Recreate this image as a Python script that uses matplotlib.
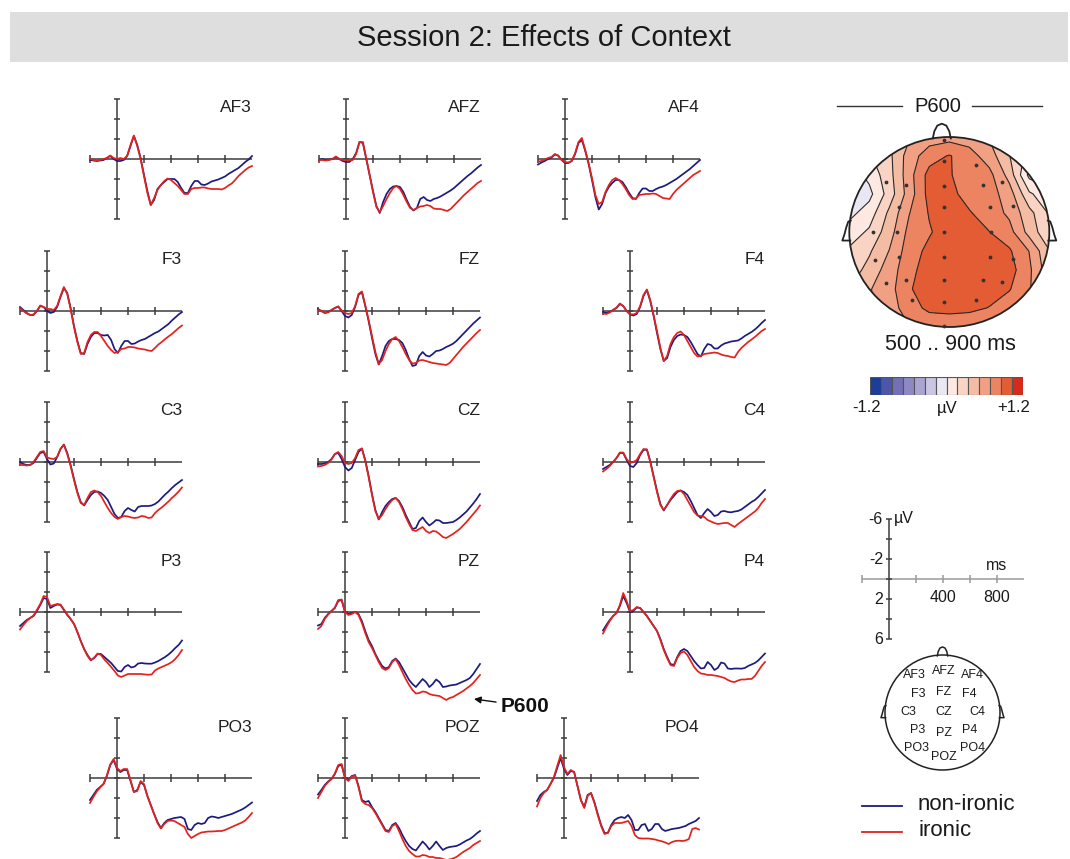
import numpy as np
import matplotlib.pyplot as plt
from matplotlib.patches import Ellipse, Rectangle
from matplotlib.colors import ListedColormap, BoundaryNorm

plt.rcParams['font.family'] = ['Liberation Sans', 'DejaVu Sans']

# time axis (ms), one sample every 25 ms
T = list(range(-200, 1001, 25))

# grand averages in microvolts (positive plotted downwards)
AF3_non = [0.1, 0.15, 0.2, 0.15, 0.1, -0.1, -0.3, 0.0, 0.2, 0.2, 0.1, -0.3, -1.3, -2.3, -1.4, -0.1, 1.6, 3.2, 4.6, 4.1, 3.0, 2.6, 2.3, 2.0, 2.0, 2.0, 2.3, 2.9, 3.4, 3.4, 2.7, 2.2, 2.2, 2.55, 2.6, 2.45, 2.25, 2.15, 2.05, 1.9, 1.75, 1.5, 1.3, 1.1, 0.9, 0.6, 0.3, 0.05, -0.3]
AF3_iro = [0.0, 0.1, 0.15, 0.1, 0.0, -0.1, -0.35, -0.1, 0.0, -0.1, 0.0, -0.3, -1.4, -2.35, -1.3, 0.0, 1.7, 3.4, 4.6, 3.9, 3.1, 2.6, 2.2, 1.95, 2.1, 2.4, 2.7, 3.1, 3.5, 3.5, 3.0, 2.9, 2.9, 2.85, 2.85, 2.95, 3.0, 3.0, 3.0, 3.05, 2.9, 2.65, 2.45, 2.1, 1.7, 1.4, 1.1, 0.85, 0.7]
AFZ_non = [0.1, 0.0, 0.1, 0.05, 0.0, -0.2, 0.0, 0.2, 0.3, 0.3, 0.0, -0.6, -1.7, -1.6, 0.0, 1.6, 3.2, 4.7, 5.4, 4.3, 3.5, 3.0, 2.75, 2.7, 2.8, 3.3, 4.1, 4.8, 5.15, 4.9, 4.0, 3.8, 4.1, 4.2, 4.0, 3.9, 3.75, 3.55, 3.35, 3.15, 2.9, 2.6, 2.3, 2.0, 1.7, 1.45, 1.15, 0.85, 0.6]
AFZ_iro = [0.1, 0.1, 0.15, 0.1, 0.0, -0.25, 0.0, 0.1, 0.1, 0.15, 0.1, -0.5, -1.7, -1.7, -0.1, 1.6, 3.3, 4.8, 5.3, 4.7, 4.0, 3.4, 2.9, 2.7, 3.0, 3.6, 4.3, 4.9, 5.1, 4.9, 4.75, 4.7, 4.6, 4.7, 4.95, 5.0, 5.0, 5.1, 5.2, 5.0, 4.65, 4.3, 3.95, 3.6, 3.3, 3.0, 2.7, 2.4, 2.2]
AF4_non = [0.55, 0.35, 0.2, 0.0, -0.15, -0.45, -0.35, 0.1, 0.4, 0.4, 0.2, -0.5, -1.6, -1.9, -0.8, 0.5, 2.1, 3.8, 5.05, 4.5, 3.4, 2.8, 2.4, 2.1, 2.1, 2.3, 2.8, 3.4, 3.9, 4.0, 3.4, 2.95, 2.95, 3.2, 3.2, 3.0, 2.85, 2.75, 2.6, 2.4, 2.2, 2.0, 1.75, 1.5, 1.25, 1.0, 0.7, 0.4, 0.1]
AF4_iro = [0.25, 0.2, 0.05, -0.1, -0.2, -0.5, -0.3, 0.1, 0.3, 0.35, 0.2, -0.6, -1.7, -2.1, -0.9, 0.4, 1.9, 3.6, 4.5, 4.3, 3.3, 2.6, 2.1, 1.9, 2.1, 2.5, 3.0, 3.6, 4.0, 3.95, 3.6, 3.55, 3.5, 3.5, 3.45, 3.5, 3.7, 3.9, 3.95, 4.0, 3.5, 3.1, 2.8, 2.5, 2.2, 1.9, 1.6, 1.4, 1.2]
F3_non = [-0.4, -0.1, 0.2, 0.4, 0.4, 0.0, -0.5, -0.4, 0.0, 0.2, 0.1, -0.4, -1.4, -2.3, -1.8, -0.3, 1.5, 3.0, 4.2, 4.3, 3.3, 2.6, 2.2, 2.2, 2.4, 2.45, 2.4, 2.9, 3.8, 4.2, 3.5, 3.0, 3.0, 3.3, 3.25, 3.05, 2.9, 2.8, 2.6, 2.4, 2.2, 2.05, 1.8, 1.55, 1.3, 0.95, 0.65, 0.35, 0.1]
F3_iro = [-0.3, 0.0, 0.25, 0.4, 0.35, 0.0, -0.55, -0.4, -0.2, -0.2, -0.1, -0.5, -1.5, -2.4, -1.7, -0.2, 1.6, 3.1, 4.3, 4.2, 3.1, 2.4, 2.1, 2.1, 2.5, 3.0, 3.5, 3.9, 4.2, 4.1, 3.8, 3.75, 3.6, 3.6, 3.65, 3.75, 3.8, 3.85, 3.95, 4.0, 3.7, 3.35, 3.1, 2.8, 2.55, 2.3, 2.0, 1.7, 1.45]
FZ_non = [-0.2, 0.0, 0.2, 0.1, -0.1, -0.3, -0.45, 0.0, 0.5, 0.65, 0.4, -0.4, -1.6, -1.9, -0.5, 1.0, 2.7, 4.3, 5.35, 4.5, 3.5, 3.0, 2.8, 2.8, 2.9, 3.2, 3.9, 4.8, 5.5, 5.4, 4.5, 4.1, 4.45, 4.55, 4.3, 4.0, 3.95, 3.8, 3.6, 3.45, 3.27, 3.0, 2.65, 2.3, 1.95, 1.6, 1.25, 0.95, 0.65]
FZ_iro = [-0.1, 0.0, 0.15, 0.15, -0.1, -0.3, -0.45, -0.05, 0.2, 0.3, 0.2, -0.5, -1.7, -1.95, -0.6, 0.9, 2.5, 4.1, 5.3, 4.9, 4.0, 3.3, 2.8, 2.6, 3.0, 3.6, 4.3, 4.9, 5.25, 5.2, 4.95, 4.9, 5.0, 5.1, 5.2, 5.25, 5.3, 5.35, 5.4, 5.2, 4.8, 4.4, 4.0, 3.6, 3.25, 2.9, 2.55, 2.2, 1.9]
F4_non = [0.1, 0.2, 0.1, -0.1, -0.3, -0.7, -0.5, 0.0, 0.35, 0.45, 0.3, -0.4, -1.5, -2.1, -1.0, 0.5, 2.2, 3.8, 5.0, 4.7, 3.6, 2.9, 2.5, 2.35, 2.4, 2.6, 3.1, 3.7, 4.3, 4.55, 3.8, 3.3, 3.4, 3.75, 3.75, 3.45, 3.25, 3.15, 3.05, 3.0, 2.95, 2.75, 2.5, 2.3, 2.1, 1.85, 1.55, 1.2, 0.9]
F4_iro = [0.25, 0.3, 0.15, -0.1, -0.35, -0.75, -0.5, 0.0, 0.3, 0.35, 0.2, -0.5, -1.6, -2.15, -1.1, 0.4, 2.0, 3.7, 5.0, 4.5, 3.3, 2.6, 2.2, 2.05, 2.4, 3.0, 3.6, 4.2, 4.55, 4.5, 4.3, 4.25, 4.2, 4.15, 4.2, 4.35, 4.45, 4.5, 4.6, 4.65, 4.1, 3.7, 3.4, 3.1, 2.85, 2.6, 2.3, 2.0, 1.8]
C3_non = [0.0, 0.2, 0.3, 0.3, 0.1, -0.4, -0.9, -1.0, -0.3, 0.25, 0.15, -0.5, -1.3, -1.75, -0.9, 0.3, 1.7, 3.0, 4.0, 4.35, 3.8, 3.3, 3.0, 2.95, 3.1, 3.4, 3.8, 4.5, 5.2, 5.6, 5.5, 4.9, 4.6, 4.8, 4.95, 4.5, 4.4, 4.4, 4.4, 4.35, 4.2, 3.95, 3.6, 3.25, 2.95, 2.6, 2.3, 2.05, 1.8]
C3_iro = [0.3, 0.3, 0.35, 0.3, 0.0, -0.5, -1.0, -1.1, -0.45, -0.35, -0.3, -0.5, -1.3, -1.7, -0.8, 0.4, 1.8, 3.1, 4.1, 4.3, 3.6, 3.0, 2.85, 3.0, 3.4, 4.0, 4.6, 5.1, 5.5, 5.7, 5.5, 5.4, 5.45, 5.55, 5.6, 5.55, 5.4, 5.45, 5.6, 5.55, 5.1, 4.8, 4.55, 4.25, 3.95, 3.6, 3.3, 2.95, 2.55]
CZ_non = [0.2, 0.2, 0.15, 0.0, -0.3, -0.8, -0.9, -0.3, 0.5, 0.85, 0.6, -0.2, -1.0, -1.35, -0.2, 1.4, 3.2, 4.8, 5.75, 5.0, 4.4, 4.0, 3.7, 3.6, 3.9, 4.5, 5.3, 6.0, 6.7, 6.6, 5.9, 5.55, 6.0, 6.35, 6.1, 5.8, 5.85, 6.1, 6.1, 6.05, 6.0, 5.8, 5.55, 5.25, 4.95, 4.55, 4.15, 3.7, 3.2]
CZ_iro = [0.45, 0.4, 0.3, 0.1, -0.25, -0.8, -1.0, -0.6, 0.1, 0.2, 0.1, -0.4, -1.2, -1.35, -0.1, 1.5, 3.3, 4.9, 5.7, 5.3, 4.7, 4.2, 3.8, 3.6, 4.0, 4.7, 5.5, 6.2, 6.8, 6.9, 6.7, 6.5, 6.9, 7.1, 6.9, 6.95, 7.2, 7.5, 7.6, 7.4, 7.2, 6.95, 6.7, 6.35, 6.0, 5.6, 5.2, 4.8, 4.35]
C4_non = [0.7, 0.5, 0.3, 0.0, -0.4, -0.9, -0.9, -0.2, 0.4, 0.5, 0.1, -0.7, -1.2, -1.25, -0.1, 1.4, 2.9, 4.2, 4.85, 4.3, 3.8, 3.4, 3.0, 2.85, 3.0, 3.3, 3.9, 4.6, 5.3, 5.6, 5.1, 4.7, 5.0, 5.4, 5.3, 4.95, 4.9, 5.0, 5.03, 4.95, 4.9, 4.75, 4.5, 4.25, 4.0, 3.8, 3.5, 3.15, 2.8]
C4_iro = [0.95, 0.7, 0.4, 0.0, -0.4, -0.95, -0.95, -0.3, 0.1, 0.0, -0.2, -0.8, -1.3, -1.25, 0.0, 1.5, 3.0, 4.3, 4.8, 4.3, 3.7, 3.2, 2.9, 2.85, 3.2, 3.8, 4.4, 5.0, 5.35, 5.4, 5.5, 5.8, 5.95, 6.1, 6.2, 6.15, 6.1, 6.1, 6.3, 6.5, 6.2, 5.95, 5.7, 5.45, 5.2, 4.95, 4.6, 4.1, 3.7]
P3_non = [1.4, 1.1, 0.8, 0.6, 0.4, -0.1, -0.7, -1.4, -1.3, -0.4, -0.6, -0.75, -0.7, -0.2, 0.3, 0.7, 1.2, 2.0, 2.9, 3.7, 4.3, 4.8, 4.6, 4.2, 4.2, 4.5, 4.8, 5.1, 5.5, 5.9, 5.95, 5.5, 5.3, 5.55, 5.45, 5.15, 5.1, 5.15, 5.17, 5.17, 5.05, 4.9, 4.7, 4.5, 4.25, 3.95, 3.6, 3.3, 2.85]
P3_iro = [1.75, 1.3, 0.9, 0.6, 0.35, -0.2, -0.8, -1.6, -1.5, -0.6, -0.7, -0.8, -0.75, -0.25, 0.25, 0.7, 1.2, 2.0, 2.9, 3.7, 4.4, 4.85, 4.55, 4.15, 4.3, 4.75, 5.1, 5.5, 5.9, 6.35, 6.5, 6.35, 6.2, 6.2, 6.2, 6.2, 6.2, 6.25, 6.27, 6.25, 5.85, 5.65, 5.5, 5.35, 5.2, 5.0, 4.7, 4.3, 3.8]
PZ_non = [1.35, 1.2, 0.6, 0.2, -0.1, -0.4, -1.1, -1.2, 0.0, 0.2, 0.1, 0.0, 0.2, 0.9, 1.9, 2.8, 3.4, 4.2, 4.85, 5.4, 5.65, 5.5, 4.9, 4.65, 5.0, 5.6, 6.2, 6.8, 7.2, 7.5, 7.1, 6.7, 7.0, 7.5, 7.2, 6.75, 7.0, 7.5, 7.45, 7.35, 7.3, 7.25, 7.1, 6.95, 6.8, 6.6, 6.2, 5.7, 5.2]
PZ_iro = [1.7, 1.4, 0.7, 0.25, -0.1, -0.45, -1.2, -1.25, 0.0, 0.3, 0.2, 0.0, 0.3, 1.1, 2.1, 3.0, 3.6, 4.3, 5.0, 5.6, 5.8, 5.6, 5.0, 4.7, 5.3, 6.0, 6.7, 7.3, 7.8, 8.15, 8.1, 7.95, 8.0, 8.2, 8.3, 8.35, 8.4, 8.6, 8.8, 8.6, 8.5, 8.3, 8.1, 7.9, 7.65, 7.4, 7.1, 6.7, 6.3]
P4_non = [1.85, 1.3, 0.8, 0.4, 0.1, -0.6, -1.6, -0.9, 0.0, -0.1, -0.45, -0.4, 0.0, 0.4, 0.9, 1.4, 1.9, 2.7, 3.7, 4.5, 5.2, 5.3, 4.5, 3.9, 3.7, 3.9, 4.4, 4.9, 5.3, 5.65, 5.6, 5.0, 5.3, 5.8, 5.6, 5.05, 5.15, 5.65, 5.7, 5.65, 5.65, 5.67, 5.6, 5.4, 5.25, 5.1, 4.85, 4.5, 4.15]
P4_iro = [2.15, 1.5, 0.9, 0.4, 0.1, -0.7, -1.9, -1.1, -0.1, -0.2, -0.5, -0.4, 0.0, 0.4, 0.9, 1.4, 1.9, 2.8, 3.8, 4.6, 5.3, 5.4, 4.6, 4.1, 3.95, 4.3, 4.9, 5.5, 5.9, 6.15, 6.2, 6.3, 6.3, 6.35, 6.4, 6.5, 6.6, 6.8, 6.95, 7.0, 6.85, 6.75, 6.75, 6.7, 6.7, 6.4, 5.9, 5.4, 5.0]
PO3_non = [2.2, 1.7, 1.2, 0.9, 0.6, -0.2, -1.3, -1.8, -0.9, -0.6, -0.8, -0.8, 0.3, 1.4, 1.2, 0.4, 0.7, 1.8, 2.7, 3.6, 4.4, 5.0, 4.5, 4.2, 4.1, 4.0, 3.95, 3.9, 4.1, 5.1, 5.2, 4.7, 4.5, 4.6, 4.5, 4.0, 3.85, 3.9, 4.0, 3.9, 3.8, 3.7, 3.6, 3.45, 3.3, 3.15, 2.95, 2.7, 2.45]
PO3_iro = [2.5, 1.9, 1.35, 0.95, 0.6, -0.25, -1.35, -1.9, -1.0, -0.7, -0.9, -0.9, 0.2, 1.4, 1.3, 0.3, 0.6, 1.8, 2.7, 3.6, 4.5, 5.05, 4.6, 4.3, 4.25, 4.3, 4.5, 4.7, 4.9, 5.6, 6.0, 5.8, 5.6, 5.45, 5.4, 5.35, 5.35, 5.33, 5.3, 5.3, 5.2, 5.05, 4.9, 4.75, 4.6, 4.45, 4.25, 3.9, 3.5]
POZ_non = [1.65, 1.2, 0.7, 0.35, 0.1, -0.4, -1.2, -1.3, 0.0, 0.2, -0.2, -0.3, 0.8, 2.2, 2.4, 2.3, 2.9, 3.4, 4.0, 4.6, 5.2, 5.3, 4.7, 4.5, 5.0, 5.7, 6.3, 6.8, 7.1, 7.25, 6.8, 6.35, 6.7, 7.15, 6.8, 6.35, 6.8, 7.2, 7.0, 6.9, 6.85, 6.8, 6.65, 6.45, 6.25, 6.1, 5.85, 5.55, 5.3]
POZ_iro = [2.0, 1.4, 0.8, 0.4, 0.1, -0.45, -1.3, -1.4, 0.0, 0.3, -0.15, -0.25, 0.9, 2.3, 2.6, 2.7, 3.0, 3.5, 4.1, 4.7, 5.3, 5.4, 4.8, 4.6, 5.3, 6.1, 6.8, 7.3, 7.6, 7.85, 7.85, 7.7, 7.75, 7.9, 7.9, 8.0, 8.0, 8.1, 8.2, 8.15, 8.05, 7.9, 7.65, 7.4, 7.2, 7.0, 6.7, 6.5, 6.3]
PO4_non = [2.3, 1.7, 1.4, 1.2, 0.6, 0.0, -1.0, -2.0, -0.9, -0.3, -0.7, -0.6, 0.8, 2.2, 2.9, 1.7, 1.5, 2.4, 3.6, 4.7, 5.5, 5.5, 4.7, 4.2, 4.0, 3.9, 4.0, 3.7, 4.2, 5.2, 5.2, 4.7, 4.6, 5.3, 5.1, 4.6, 4.6, 5.1, 5.3, 5.2, 5.1, 5.05, 5.0, 4.9, 4.8, 4.6, 4.45, 4.3, 4.0]
PO4_iro = [2.85, 2.0, 1.5, 1.2, 0.6, -0.1, -1.2, -2.3, -1.1, -0.4, -0.8, -0.6, 0.8, 2.2, 3.0, 1.8, 1.5, 2.5, 3.7, 4.8, 5.6, 5.5, 4.8, 4.5, 4.5, 4.5, 4.4, 4.3, 4.8, 5.7, 6.0, 6.05, 6.05, 6.05, 6.1, 6.15, 6.25, 6.33, 6.45, 6.6, 6.4, 6.3, 6.27, 6.3, 6.25, 6.1, 5.1, 5.0, 5.15]

# P600 topography 500..900 ms, values on a regular grid over the head (uV)
grid_x = [-1.0, -0.8, -0.6, -0.4, -0.2, 0.0, 0.2, 0.4, 0.6, 0.8, 1.0]
grid_y = [1.0, 0.8, 0.6, 0.4, 0.2, 0.0, -0.2, -0.4, -0.6, -0.8, -1.0]
topo_vals = [
    [0.2, 0.25, 0.35, 0.5, 0.6, 0.62, 0.6, 0.5, 0.3, 0.1, 0.1],
    [0.1, 0.15, 0.3, 0.6, 0.78, 0.87, 0.76, 0.6, 0.35, 0.1, 0.05],
    [-0.1, 0.05, 0.28, 0.62, 0.92, 0.88, 0.72, 0.74, 0.45, -0.05, -0.1],
    [-0.15, -0.05, 0.25, 0.6, 0.92, 0.9, 0.8, 0.76, 0.6, 0.2, 0.05],
    [-0.05, 0.08, 0.38, 0.68, 0.87, 0.94, 0.87, 0.78, 0.65, 0.4, 0.15],
    [0.08, 0.2, 0.44, 0.74, 0.84, 0.95, 0.93, 0.86, 0.75, 0.45, 0.2],
    [0.2, 0.32, 0.52, 0.78, 0.9, 0.97, 0.96, 0.94, 0.88, 0.68, 0.35],
    [0.25, 0.4, 0.6, 0.8, 0.95, 0.98, 0.97, 0.96, 0.93, 0.72, 0.4],
    [0.35, 0.5, 0.62, 0.84, 0.95, 0.98, 0.96, 0.94, 0.87, 0.7, 0.5],
    [0.45, 0.5, 0.6, 0.78, 0.9, 0.92, 0.9, 0.85, 0.75, 0.65, 0.55],
    [0.5, 0.55, 0.6, 0.68, 0.72, 0.72, 0.72, 0.7, 0.68, 0.62, 0.55],
]
# electrode sites on the map
elec_x = [-0.05, -0.05, 0.27, -0.63, -0.43, -0.05, 0.34, 0.53, -0.5, -0.05, 0.41, 0.64, -0.76, -0.52,
          -0.05, 0.42, -0.74, -0.5, -0.05, 0.41, 0.64, -0.63, -0.43, -0.05, 0.34, 0.53, -0.37, -0.05,
          0.27, -0.05]
elec_y = [0.97, 0.745, 0.71, 0.53, 0.49, 0.48, 0.49, 0.53, 0.26, 0.26, 0.26, 0.27, 0.0, 0.0,
          0.0, 0.0, -0.29, -0.26, -0.26, -0.26, -0.28, -0.54, -0.51, -0.51, -0.51, -0.53, -0.72, -0.74,
          -0.72, -0.99]

cbar_colors = ['#1b3f98', '#4d56a9', '#7370b8', '#8e88c4', '#aaa4d3', '#c9c5e3', '#e9e7f3',
               '#fde9e1', '#f9d4c4', '#f5bca4', '#f1a084', '#ec8461', '#e45c33', '#d52b1d']
cbar_levels = np.linspace(-1.2, 1.2, 15)

# montage labels of the small head
montage = ['AF3', 'AFZ', 'AF4', 'F3', 'FZ', 'F4', 'C3', 'CZ', 'C4', 'P3', 'PZ', 'P4', 'PO3', 'POZ', 'PO4']
montage_x = [-0.48, 0.02, 0.52, -0.43, 0.02, 0.47, -0.59, 0.02, 0.6, -0.43, 0.02, 0.47, -0.45, 0.02, 0.52]
montage_y = [0.65, 0.72, 0.65, 0.32, 0.36, 0.32, 0.01, 0.01, 0.01, -0.30, -0.36, -0.30, -0.62, -0.77, -0.62]

BLUE = '#1c1c7e'
RED = '#e3221c'
AXC = '#3c3c3c'

W, H = 1070, 859
MS_PX = 0.135   # pixels per ms
UV_PX = 10.0    # pixels per microvolt

fig = plt.figure(figsize=(W / 100, H / 100), dpi=100)


def pix_axes(left, top, width, height):
    ax = fig.add_axes([left / W, 1 - (top + height) / H, width / W, height / H])
    ax.axis('off')
    return ax


def erp_axes(x0, y0):
    t0, t1, v0, v1 = -260, 1060, -8, 10
    ax = pix_axes(x0 + t0 * MS_PX, y0 + v0 * UV_PX, (t1 - t0) * MS_PX, (v1 - v0) * UV_PX)
    ax.set_xlim(t0, t1)
    ax.set_ylim(v1, v0)
    return ax


def draw_frame(ax, hcolor=AXC):
    kw = dict(lw=1.1, clip_on=False, solid_capstyle='butt')
    ax.plot([-200, 1000], [0, 0], color=hcolor, **kw)
    for t in [-200, 200, 400, 600, 800]:
        ax.plot([t, t], [-0.4, 0.4], color=hcolor, **kw)
    ax.plot([0, 0], [-6, 6], color=AXC, **kw)
    for v in range(-6, 7, 2):
        ax.plot([-25, 25], [v, v], color=AXC, **kw)


def head_axes(cx, cy, rx, ry):
    ax = pix_axes(cx - 1.2 * rx, cy - 1.25 * ry, 2.4 * rx, 2.5 * ry)
    ax.set_xlim(-1.2, 1.2)
    ax.set_ylim(-1.25, 1.25)
    return ax


def head_outline(ax, lw, nose_x=0.0):
    outline = Ellipse((0, 0), 2, 2, fill=False, ec='#222222', lw=lw, zorder=5)
    ax.add_patch(outline)
    nose = [(nose_x - 0.09, 0.985), (nose_x - 0.075, 1.06), (nose_x - 0.045, 1.12), (nose_x, 1.14),
            (nose_x + 0.045, 1.12), (nose_x + 0.075, 1.06), (nose_x + 0.09, 0.985)]
    ax.plot(*zip(*nose), color='#222222', lw=lw, zorder=5)
    ear = [(-0.985, 0.12), (-1.01, 0.11), (-1.03, 0.05), (-1.05, -0.03), (-1.07, -0.09), (-0.99, -0.09)]
    ax.plot([p[0] for p in ear], [p[1] for p in ear], color='#222222', lw=lw, zorder=5)
    ax.plot([-p[0] for p in ear], [p[1] for p in ear], color='#222222', lw=lw, zorder=5)
    return outline


# background layer in pixel units for title and free text
bg = pix_axes(0, 0, W, H)
bg.set_xlim(0, W)
bg.set_ylim(H, 0)
bg.add_patch(Rectangle((10, 12), 1058, 50, color='#dedede', lw=0))
bg.text(544, 38, 'Session 2: Effects of Context', ha='center', va='center', fontsize=21, color='#1a1a1a')

# ERP panels: name, y-axis x position, zero-line y position (pixels)
panels = [
    ('AF3', 117, 159, AF3_non, AF3_iro), ('AFZ', 346, 159, AFZ_non, AFZ_iro), ('AF4', 565, 159, AF4_non, AF4_iro),
    ('F3', 47, 311, F3_non, F3_iro), ('FZ', 345, 311, FZ_non, FZ_iro), ('F4', 630, 311, F4_non, F4_iro),
    ('C3', 47, 462, C3_non, C3_iro), ('CZ', 345, 462, CZ_non, CZ_iro), ('C4', 630, 462, C4_non, C4_iro),
    ('P3', 47, 612, P3_non, P3_iro), ('PZ', 345, 612, PZ_non, PZ_iro), ('P4', 630, 612, P4_non, P4_iro),
    ('PO3', 117, 778, PO3_non, PO3_iro), ('POZ', 345, 778, POZ_non, POZ_iro), ('PO4', 564, 778, PO4_non, PO4_iro),
]
for name, x0, y0, non, iro in panels:
    ax = erp_axes(x0, y0)
    draw_frame(ax)
    ax.plot(T, non, color=BLUE, lw=1.25, clip_on=False)
    ax.plot(T, iro, color=RED, lw=1.25, clip_on=False)
    ax.text(1000, -5.1, name, ha='right', va='center', fontsize=12.5, color='#222222')
    if name == 'PZ':
        ax.annotate('P600', xy=(955, 8.7), xytext=(1150, 9.4), ha='left', va='center',
                    fontsize=15, fontweight='bold', color='#111111', annotation_clip=False,
                    arrowprops=dict(arrowstyle='-|>', color='#111111', lw=1.0,
                                    mutation_scale=10, shrinkA=1, shrinkB=0))

# topographic map
tm = head_axes(949.3, 232, 100, 95)
outline = head_outline(tm, 1.3, nose_x=-0.075)
gx, gy = np.meshgrid(grid_x, grid_y)
cmap = ListedColormap(cbar_colors)
norm = BoundaryNorm(cbar_levels, cmap.N)
cf = tm.contourf(gx, gy, np.array(topo_vals), levels=cbar_levels, cmap=cmap, norm=norm)
cl = tm.contour(gx, gy, np.array(topo_vals), levels=cbar_levels, colors='#2a2a2a', linewidths=0.8)
cf.set_clip_path(outline)
cl.set_clip_path(outline)
tm.scatter(elec_x, elec_y, s=3, color='#333333', zorder=6)

bg.plot([837, 902], [106, 106], color='#333333', lw=1.0)
bg.plot([972, 1042], [106, 106], color='#333333', lw=1.0)
bg.text(938, 106, 'P600', ha='center', va='center', fontsize=14.5, color='#1a1a1a')
bg.text(950, 344, '500 .. 900 ms', ha='center', va='center', fontsize=15.5, color='#1a1a1a')

# colour scale
cb = pix_axes(870, 377, 153, 18)
cb.set_xlim(0, len(cbar_colors))
cb.set_ylim(0, 1)
for i, c in enumerate(cbar_colors):
    cb.add_patch(Rectangle((i, 0), 1, 1, fc=c, ec='#555555', lw=0.8))
bg.text(867, 408, '-1.2', ha='center', va='center', fontsize=12, color='#1a1a1a')
bg.text(947, 408, 'µV', ha='center', va='center', fontsize=12, color='#1a1a1a')
bg.text(1014, 408, '+1.2', ha='center', va='center', fontsize=12, color='#1a1a1a')

# scale bar panel
sc = erp_axes(889, 579)
draw_frame(sc, hcolor='#9a9a9a')
for v in [-6, -2, 2, 6]:
    sc.text(-45, v, f'{v}', ha='right', va='center', fontsize=11.5, color='#1a1a1a')
sc.text(35, -6.1, 'µV', ha='left', va='center', fontsize=11.5, color='#1a1a1a')
for t in [400, 800]:
    sc.text(t, 1.8, f'{t}', ha='center', va='center', fontsize=11.5, color='#1a1a1a')
sc.text(800, -1.3, 'ms', ha='center', va='center', fontsize=11.5, color='#1a1a1a')

# electrode montage
hd = head_axes(942.5, 712.5, 57.5, 57.5)
head_outline(hd, 1.1)
for lab, x, y in zip(montage, montage_x, montage_y):
    hd.text(x, y, lab, ha='center', va='center', fontsize=9, color='#1a1a1a')

# legend
bg.plot([862, 902], [806, 806], color=BLUE, lw=1.3)
bg.plot([862, 902], [832, 832], color=RED, lw=1.3)
bg.text(918, 805, 'non-ironic', ha='left', va='center', fontsize=16, color='#1a1a1a')
bg.text(918, 831, 'ironic', ha='left', va='center', fontsize=16, color='#1a1a1a')

fig.savefig('out.png', dpi=100)
